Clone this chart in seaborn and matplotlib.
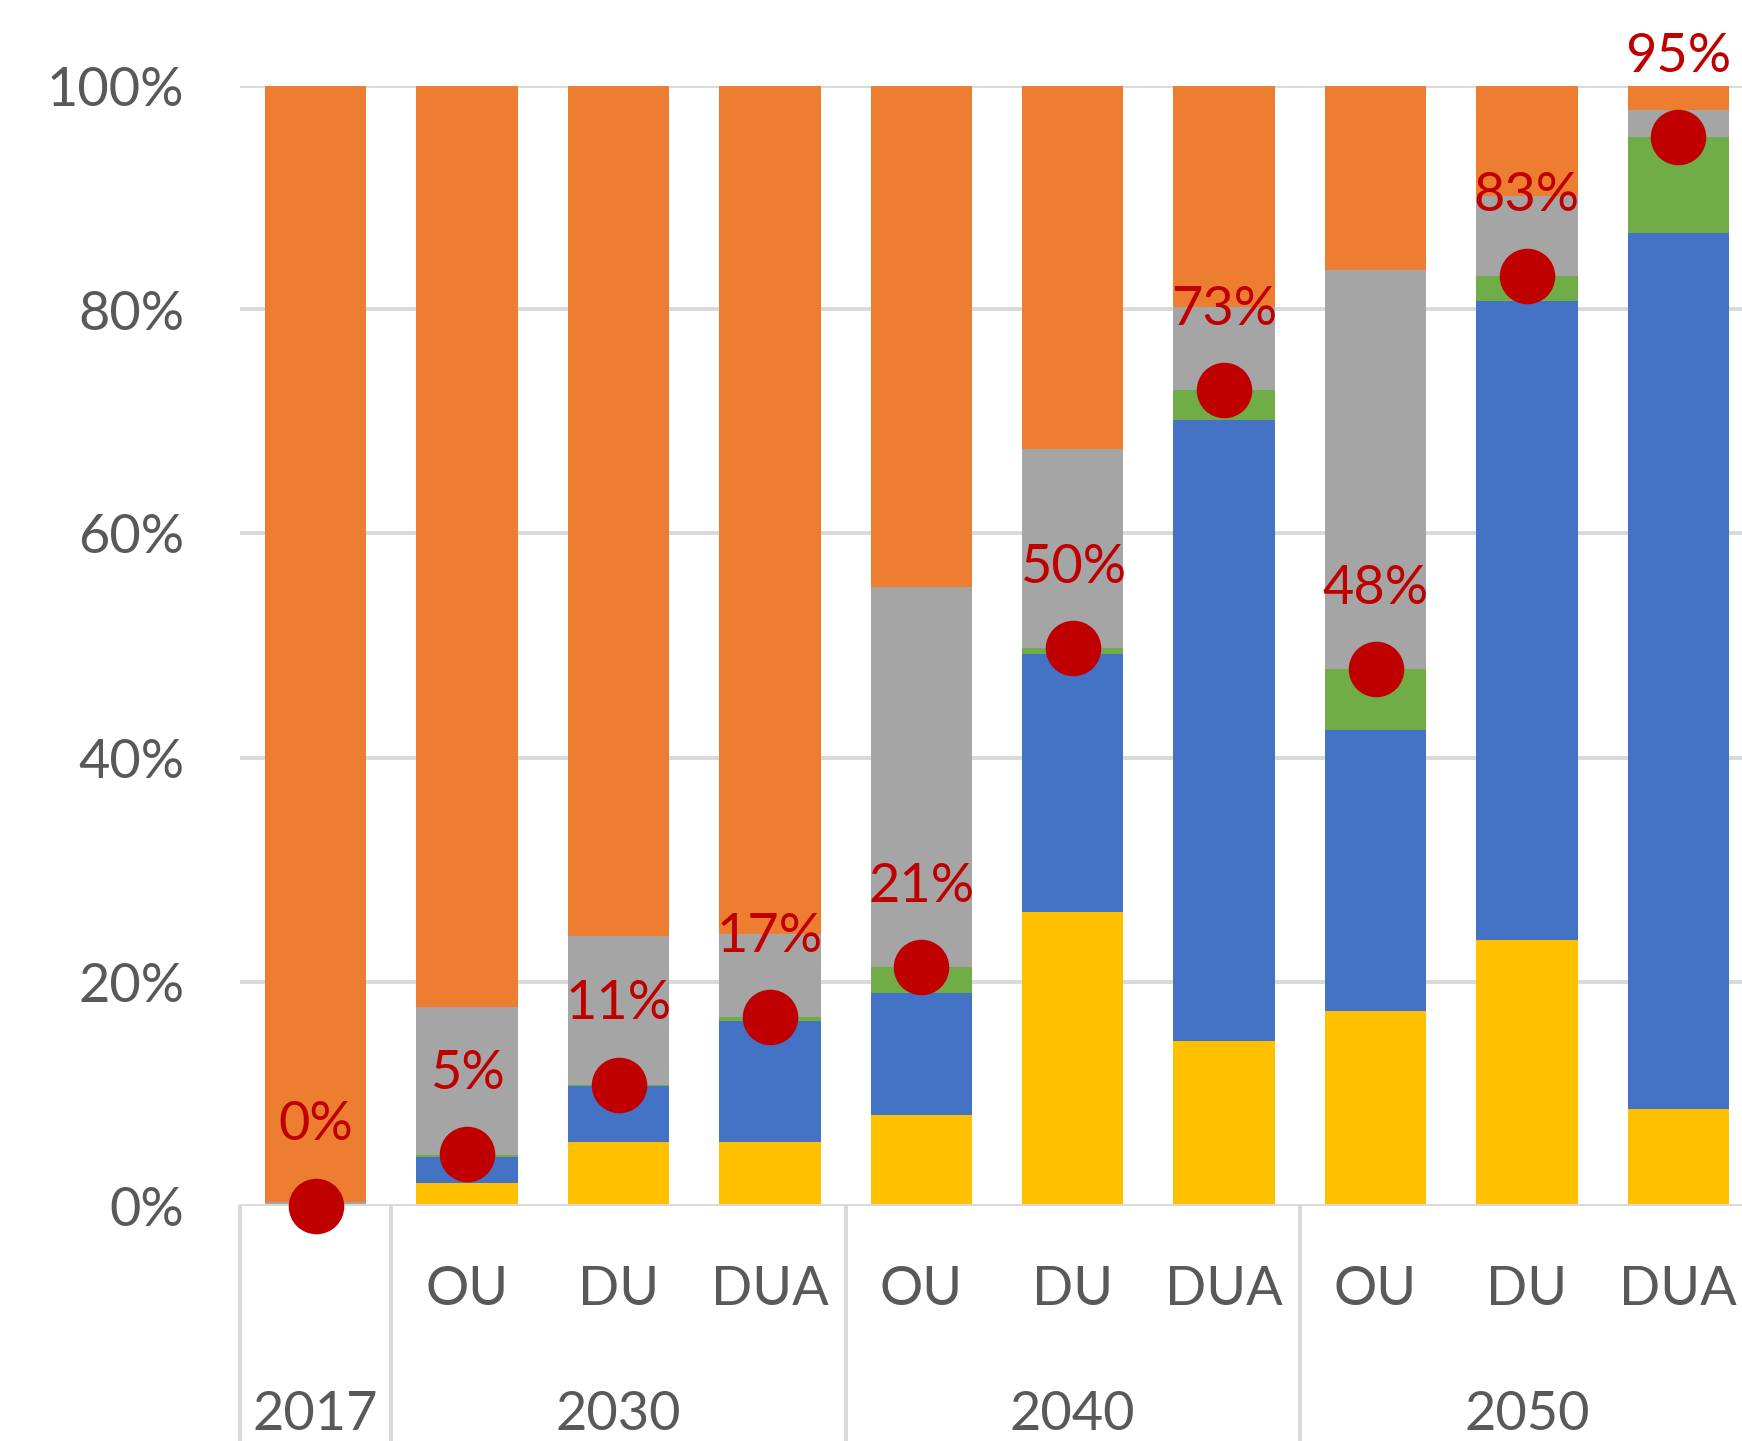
import numpy as np
import pandas as pd
import matplotlib
matplotlib.use("Agg")
import matplotlib.pyplot as plt
import seaborn as sns

# ---- data ----
categories = ["2017", "2030 OU", "2030 DU", "2030 DUA", "2040 OU", "2040 DU",
              "2040 DUA", "2050 OU", "2050 DU", "2050 DUA"]
sub_labels = ["", "OU", "DU", "DUA", "OU", "DU", "DUA", "OU", "DU", "DUA"]
year_labels = ["2017", "2030", "2040", "2050"]
year_pos = [0, 2, 5, 8]
separators = [-0.5, 0.5, 3.5, 6.5]

yellow = [0.0, 2.0, 5.7, 5.7, 8.1, 26.2, 14.7, 17.4, 23.7, 8.6]
blue   = [0.0, 2.3, 5.0, 10.8, 10.9, 23.0, 55.4, 25.1, 57.1, 78.2]
green  = [0.0, 0.2, 0.1, 0.3, 2.3, 0.6, 2.7, 5.4, 2.2, 8.6]
gray   = [0.3, 13.2, 13.3, 7.4, 33.9, 17.7, 7.4, 35.6, 7.1, 2.4]
orange = [99.7, 82.3, 75.9, 75.8, 44.8, 32.5, 19.8, 16.5, 9.9, 2.2]

dot_values = [0.0, 4.6, 10.8, 16.8, 21.3, 49.8, 72.8, 47.9, 83.0, 95.4]
dot_labels = ["0%", "5%", "11%", "17%", "21%", "50%", "73%", "48%", "83%", "95%"]

colors = {"yellow": "#FFC000", "blue": "#4472C4", "green": "#70AD47",
          "gray": "#A5A5A5", "orange": "#ED7D31"}
series = [("yellow", yellow), ("blue", blue), ("green", green),
          ("gray", gray), ("orange", orange)]

sns.set_theme(style="white")
plt.rcParams["font.family"] = ["Lato", "DejaVu Sans"]

W, H = 1742, 1441
fig = plt.figure(figsize=(W / 100, H / 100), dpi=100)
ax = fig.add_axes([240 / W, 1 - 1205.5 / H, 1514 / W, 1120 / H])

# cumulative stacks, drawn top-down so lower layers overlay
cum = np.zeros(len(categories))
cums = []
for name, vals in series:
    cum = cum + np.array(vals)
    cums.append((name, cum.copy()))

for name, c in reversed(cums):
    df = pd.DataFrame({"cat": categories, "val": c})
    sns.barplot(data=df, x="cat", y="val", color=colors[name], width=0.67,
                saturation=1, ax=ax, zorder=2, linewidth=0)

grid_c = "#D9D9D9"
for yv in [20, 40, 60, 80, 100]:
    ax.axhline(yv, color=grid_c, lw=2.8, zorder=1)
ax.axhline(0, color=grid_c, lw=2.8, zorder=3)

x = np.arange(len(categories))
ax.plot(x, dot_values, "o", color="#C00000", markersize=40, zorder=5,
        clip_on=False, markeredgewidth=0)
for xi, v, lab in zip(x, dot_values, dot_labels):
    ax.annotate(lab, (xi, v), xytext=(0, 58), textcoords="offset points",
                ha="center", va="center", color="#C00000", fontsize=39,
                zorder=6, annotation_clip=False)

ax.set_xlim(-0.5, 9.5)
ax.set_ylim(0, 100)
ax.set_yticks([0, 20, 40, 60, 80, 100])
ax.set_yticklabels(["0%", "20%", "40%", "60%", "80%", "100%"])
ax.tick_params(axis="y", length=0, pad=40, labelsize=39, labelcolor="#595959")
ax.set_xticks([])
ax.set_xlabel("")
ax.set_ylabel("")
for s in ax.spines.values():
    s.set_visible(False)

trans = ax.get_xaxis_transform()
for xi, lab in zip(x, sub_labels):
    if lab:
        ax.text(xi, -0.0746, lab, transform=trans, ha="center", va="center",
                fontsize=39, color="#595959")
for xp, lab in zip(year_pos, year_labels):
    ax.text(xp, -0.187, lab, transform=trans, ha="center", va="center",
            fontsize=39, color="#595959")
for sx in separators:
    ax.plot([sx, sx], [0, -0.25], transform=trans, color=grid_c, lw=2.8,
            clip_on=False, zorder=3)

fig.savefig("out.png", dpi=100)
